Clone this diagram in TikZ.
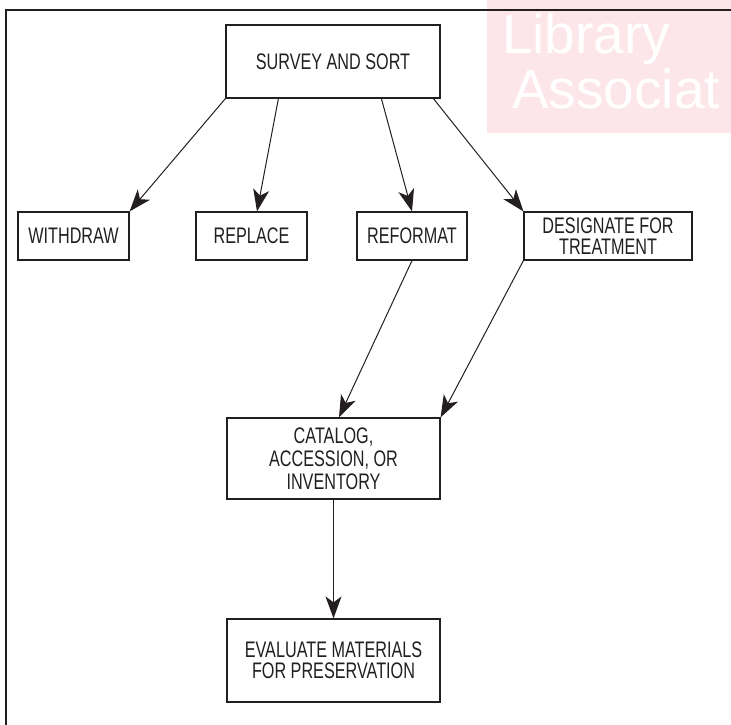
\documentclass[tikz,border=0pt]{standalone}
\usepackage{fontspec}
\usepackage{xcolor}
\newfontfamily\boxfont{Liberation Sans}[FakeStretch=0.72]
\newfontfamily\markfont{Liberation Sans}
\definecolor{markpink}{RGB}{252,230,233}
\definecolor{inkgray}{RGB}{35,31,32}
\usetikzlibrary{arrows.meta}

\tikzset{
  stepbox/.style={draw=inkgray,line width=1.2pt,align=center,inner sep=0pt,
    text=inkgray,font=\boxfont\fontsize{22.5}{21}\selectfont},
  flow/.style={-{Stealth[length=22pt,width=16pt,inset=6pt]},line width=1pt,draw=inkgray},
  marktext/.style={anchor=base west,inner sep=0pt,text=white,
    font=\markfont\fontsize{55}{55}\selectfont}
}

\begin{document}
\begin{tikzpicture}[x=1pt,y=-1pt]
        \useasboundingbox (0,0) rectangle (731,725);
        % watermark in the corner
        \fill[markpink] (487,0) rectangle (731,133);
        \begin{scope}
          \clip (487,0) rectangle (731,133);
          \node[marktext] (lib) at (502,54) {Library};
          \node[marktext] (assoc) at (512,108) {Associat};
        \end{scope}
        % frame
        \draw[line width=1.6pt,inkgray] (6,725) -- (6,10) -- (731,10);
        % boxes
        \node[stepbox,minimum width=214pt,minimum height=73pt] (survey) at (333,61.5) {SURVEY AND SORT};
        \node[stepbox,minimum width=111pt,minimum height=48pt] (withdraw) at (73.5,236) {WITHDRAW};
        \node[stepbox,minimum width=111pt,minimum height=48pt] (replace) at (251.5,236) {REPLACE};
        \node[stepbox,minimum width=110pt,minimum height=48pt] (reformat) at (412,236) {REFORMAT};
        \node[stepbox,minimum width=168pt,minimum height=48pt] (designate) at (608,236) {DESIGNATE FOR\\TREATMENT};
        \node[stepbox,minimum width=213pt,minimum height=81pt] (catalog) at (333.5,458.5) {CATALOG,\\[2pt]ACCESSION, OR\\[2pt]INVENTORY};
        \node[stepbox,minimum width=213pt,minimum height=83pt] (evaluate) at (333.5,660.5) {EVALUATE MATERIALS\\FOR PRESERVATION};
        % arrows
        \draw[flow] (survey.south west) -- (withdraw.north east);
        \draw[flow] ([xshift=53pt]survey.south west) -- ([xshift=5.5pt]replace.north);
        \draw[flow] ([xshift=156pt]survey.south west) -- (reformat.north);
        \draw[flow] ([xshift=208pt]survey.south west) -- (designate.north west);
        \draw[flow] (reformat.south) -- ([xshift=5.5pt]catalog.north);
        \draw[flow] (designate.south west) -- (catalog.north east);
        \draw[flow] (catalog.south) -- (evaluate.north);
      \end{tikzpicture}
\end{document}
